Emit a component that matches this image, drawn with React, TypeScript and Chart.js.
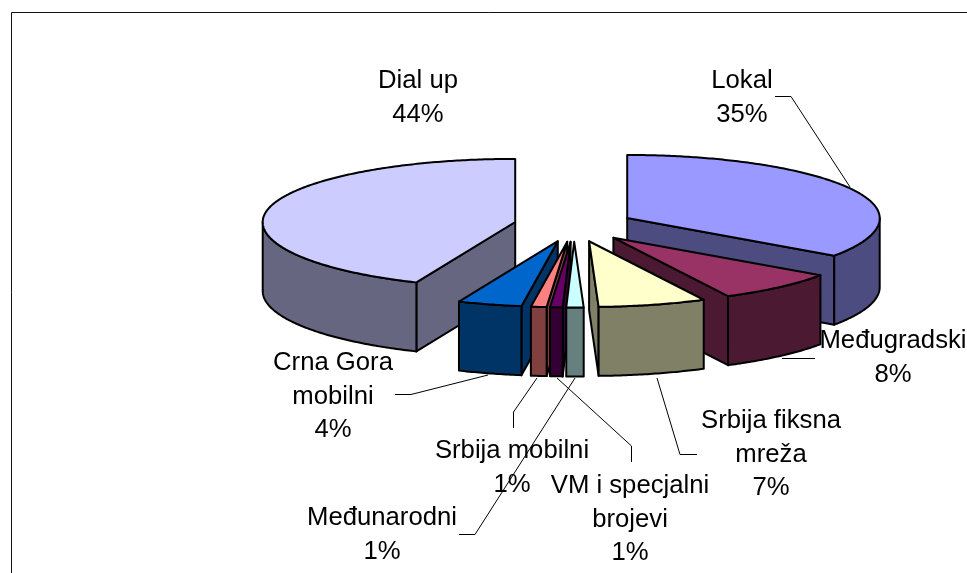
import React, { useEffect, useRef } from "react";
import { Chart, registerables } from "chart.js";

Chart.register(...registerables);

const categories = ["Lokal", "Međugradski", "Srbija fiksna mreža", "VM i specjalni brojevi", "Međunarodni", "Srbija mobilni", "Crna Gora mobilni", "Dial up"];
const shares = [34.7, 7.8, 6.9, 1.1, 0.8, 1.0, 4.1, 43.6];
const topColors = ["#9999FF", "#993366", "#FFFFCC", "#CCFFFF", "#660066", "#FF8080", "#0066CC", "#CCCCFF"];
const sideColors = ["#4C4C80", "#4C1933", "#808066", "#668080", "#330033", "#804040", "#003366", "#666680"];

const labelLines = [["Lokal"], ["Međugradski"], ["Srbija fiksna", "mreža"], ["VM i specjalni", "brojevi"], ["Međunarodni"], ["Srbija mobilni"], ["Crna Gora", "mobilni"], ["Dial up"]];

// layout of the callouts: [centre x, first line y] and leader polylines
const labelAnchors = [[742, 81], [893, 341], [771, 421], [630, 486], [382, 518], [512, 451], [333, 363], [418, 81]];
const leaders: (number[][] | null)[] = [
  [[775, 96.5], [791, 96.5], [850, 187]],
  [[782, 358.5], [815, 358.5]],
  [[657, 378], [680, 454.5], [697, 454.5]],
  [[557, 378], [631.5, 446], [631.5, 462]],
  [[575, 378], [475, 534.5], [459, 534.5]],
  [[537, 378], [513.5, 412], [513.5, 428]],
  [[488, 375], [411, 394.5], [395, 394.5]],
  null,
];

const CENTER_Y = 225;
const SQUASH_BACK = 0.25;
const SQUASH_FRONT = 0.26;
const EXPLODE = 60;
const EXPLODE_SQUASH_BACK = 0.25;
const EXPLODE_SQUASH_FRONT = 0.28;
const DEPTH = 69;
const LINE_STEP = 33.5;

const pie3d = {
  id: "pie3d",
  beforeDatasetsDraw(chart: any) {
    const ctx: CanvasRenderingContext2D = chart.ctx;
    const meta = chart.getDatasetMeta(0);
    const arcs = meta.data.map((arc: any, i: number) => {
      const mid = (arc.startAngle + arc.endAngle) / 2;
      return { arc, i, mid };
    });
    arcs.sort((a: any, b: any) => Math.sin(a.mid) - Math.sin(b.mid));

    ctx.save();
    ctx.lineWidth = 2;
    ctx.lineJoin = "round";
    ctx.strokeStyle = "#000";
    for (const { arc, i, mid } of arcs) {
      const r = arc.outerRadius;
      const s = Math.sin(mid);
      const ax = arc.x + Math.cos(mid) * EXPLODE;
      const ay = CENTER_Y + s * EXPLODE * (s > 0 ? EXPLODE_SQUASH_FRONT : EXPLODE_SQUASH_BACK);
      const a1 = arc.startAngle;
      const a2 = arc.endAngle;
      const px = (a: number) => ax + Math.cos(a) * r;
      const py = (a: number) => ay + Math.sin(a) * r * (Math.sin(a) > 0 ? SQUASH_FRONT : SQUASH_BACK);
      const trace = (from: number, to: number, dy: number) => {
        const n = Math.max(2, Math.ceil(Math.abs(to - from) * 90));
        for (let k = 0; k <= n; k++) {
          const a = from + ((to - from) * k) / n;
          ctx.lineTo(px(a), py(a) + dy);
        }
      };

      ctx.fillStyle = sideColors[i];
      const face = (a: number) => {
        ctx.beginPath();
        ctx.moveTo(ax, ay);
        ctx.lineTo(px(a), py(a));
        ctx.lineTo(px(a), py(a) + DEPTH);
        ctx.lineTo(ax, ay + DEPTH);
        ctx.closePath();
        ctx.fill();
        ctx.stroke();
      };
      if (Math.cos(a1) < 0) face(a1);
      if (Math.cos(a2) > 0) face(a2);

      const w1 = Math.max(a1, 0);
      const w2 = Math.min(a2, Math.PI);
      if (w2 > w1) {
        ctx.beginPath();
        ctx.moveTo(px(w1), py(w1));
        trace(w1, w2, 0);
        trace(w2, w1, DEPTH);
        ctx.closePath();
        ctx.fill();
        ctx.stroke();
      }

      ctx.fillStyle = topColors[i];
      ctx.beginPath();
      ctx.moveTo(ax, ay);
      trace(a1, a2, 0);
      ctx.closePath();
      ctx.fill();
      ctx.stroke();
    }
    ctx.restore();
    return false;
  },
  afterDraw(chart: any) {
    const ctx: CanvasRenderingContext2D = chart.ctx;
    const total = shares.reduce((s, v) => s + v, 0);
    ctx.save();
    ctx.strokeStyle = "#000";
    ctx.lineWidth = 1;
    for (const path of leaders) {
      if (!path) continue;
      ctx.beginPath();
      path.forEach(([x, y], k) => (k ? ctx.lineTo(x, y) : ctx.moveTo(x, y)));
      ctx.stroke();
    }
    ctx.fillStyle = "#000";
    ctx.font = '25.7px "Liberation Sans", Arial, sans-serif';
    ctx.textAlign = "center";
    ctx.textBaseline = "middle";
    categories.forEach((_, i) => {
      const lines = [...labelLines[i], `${Math.round((shares[i] / total) * 100)}%`];
      lines.forEach((t, k) => ctx.fillText(t, labelAnchors[i][0], labelAnchors[i][1] + k * LINE_STEP));
    });
    ctx.restore();
  },
  beforeDraw(chart: any) {
    const ctx: CanvasRenderingContext2D = chart.ctx;
    ctx.save();
    ctx.fillStyle = "#fff";
    ctx.fillRect(0, 0, chart.width, chart.height);
    ctx.strokeStyle = "#111";
    ctx.lineWidth = 1;
    ctx.beginPath();
    ctx.moveTo(11.5, chart.height);
    ctx.lineTo(11.5, 12.5);
    ctx.lineTo(chart.width, 12.5);
    ctx.stroke();
    ctx.restore();
  },
};

export default function App() {
  const ref = useRef<HTMLCanvasElement>(null);
  useEffect(() => {
    const chart = new Chart(ref.current as HTMLCanvasElement, {
      type: "pie",
      data: {
        labels: categories,
        datasets: [{ data: shares, backgroundColor: topColors, borderWidth: 0, hoverOffset: 0 }],
      },
      options: {
        animation: false,
        responsive: false,
        events: [],
        layout: { padding: { left: 181, right: 0, top: 0, bottom: 68 } },
        plugins: { legend: { display: false }, tooltip: { enabled: false } },
      },
      plugins: [pie3d],
    } as any);
    return () => chart.destroy();
  }, []);
  return (
    <canvas
      ref={ref}
      width={967}
      height={573}
      style={{ position: "fixed", left: 0, top: 0, width: 967, height: 573, display: "block" }}
    />
  );
}
